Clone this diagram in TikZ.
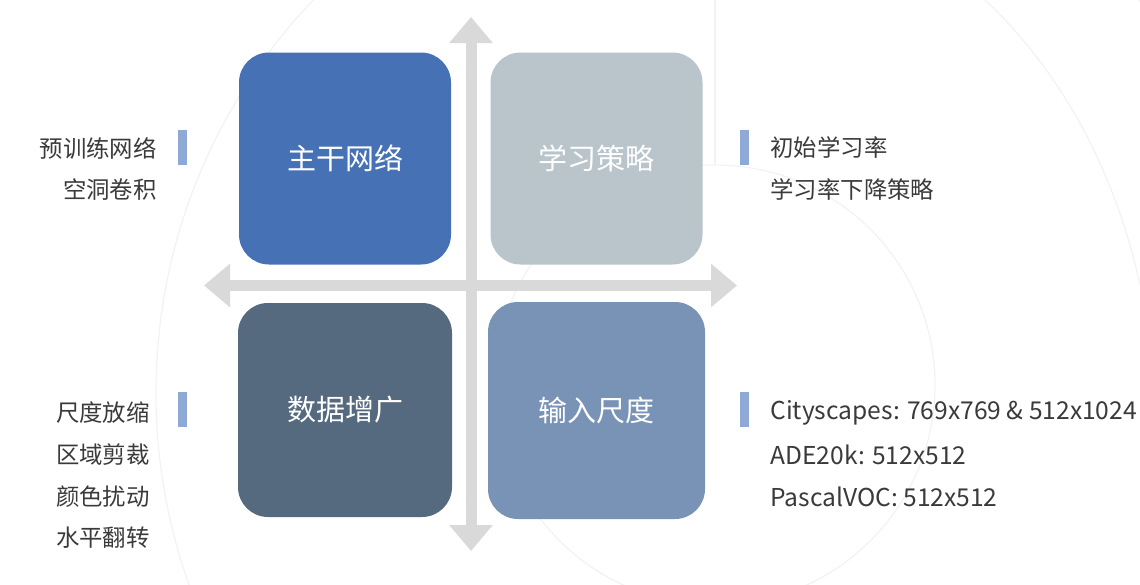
\documentclass[tikz,border=0pt]{standalone}
\usepackage{fontspec}
\setmainfont{Noto Sans CJK SC}
\usepackage{tikz}
\usetikzlibrary{arrows.meta}

\definecolor{backbone}{HTML}{4672B5}
\definecolor{lrplan}{HTML}{B9C4CB}
\definecolor{augment}{HTML}{55697F}
\definecolor{inscale}{HTML}{7893B5}
\definecolor{axisgray}{HTML}{D9D9D9}
\definecolor{barblue}{HTML}{8EA9D6}
\definecolor{txtgray}{HTML}{3A3A3A}

\begin{document}
\begin{tikzpicture}[x=0.5pt, y=-0.5pt]
        \tikzstyle{every node} = [font=\fontsize{11.7}{14}\selectfont, text=txtgray]
        \tikzstyle{quad} = [rounded corners=15pt, inner sep=0pt, minimum width=106pt, minimum height=106pt, text=white, font=\fontsize{14.5}{17}\selectfont]
        \tikzstyle{axis} = [draw=axisgray, line width=5.5pt, {Triangle[width=21pt, length=13pt]}-{Triangle[width=21pt, length=13pt]}]
        \tikzstyle{strip} = [fill=barblue, inner sep=0pt, minimum width=4.5pt, minimum height=17.5pt]
        \tikzstyle{leftlbl} = [inner sep=0pt, anchor=east]
        \tikzstyle{rightlbl} = [inner sep=0pt, anchor=west]
        \tikzstyle{latinlbl} = [rightlbl, font=\fontsize{12.3}{14}\selectfont]
        \tikzstyle{deco} = [draw=black!5, line width=0.6pt]

        \def\gap{41.7}
        \def\lx{157}
        \def\rx{770}

        \useasboundingbox (0,0) rectangle (1140,584);

        % faint rings of the slide background
        \begin{scope}
            \clip (0,0) rectangle (1140,584);
            \draw[deco] (715,385) circle[radius=220];
            \draw[deco] (726,393) circle[radius=570];
            \draw[deco] (715,0) -- (715,165);
            \draw[deco] (985,0) .. controls (1060,70) and (1115,170) .. (1140,285);
        \end{scope}

        % axes
        \coordinate (n) at (471,17);
        \coordinate (s) at (471,551);
        \coordinate (w) at (204,285.5);
        \coordinate (e) at (737,285.5);
        \draw[axis] (s) -- (n);
        \draw[axis] (w) -- (e);

        % four quadrants
        \node[quad, fill=backbone] (backbone) at (345,158.5) {主干网络};
        \node[quad, fill=lrplan] (lrplan) at (596.5,158.5) {学习策略};
        \node[quad, fill=augment, minimum width=107pt, minimum height=107pt] (augment) at (345,410) {数据增广};
        \node[quad, fill=inscale, minimum width=108.5pt, minimum height=108.5pt] (inscale) at (596.5,410.5) {输入尺度};

        % side notes
        \node[strip] (bar-tl) at (182.5,147) {};
        \node[strip] (bar-tr) at (744,147) {};
        \node[strip] (bar-bl) at (182.5,409.5) {};
        \node[strip] (bar-br) at (744,409.5) {};

        \foreach[count=\c] \t in {预训练网络, 空洞卷积}
            \node[leftlbl] (tl-\c) at (\lx, {148+\gap*(\c-1)}) {\t};
        \foreach[count=\c] \t in {初始学习率, 学习率下降策略}
            \node[rightlbl] (tr-\c) at (\rx, {148+\gap*(\c-1)}) {\t};
        \foreach[count=\c] \t in {尺度放缩, 区域剪裁, 颜色扰动, 水平翻转}
            \node[leftlbl] (bl-\c) at (150, {413+\gap*(\c-1)}) {\t};
        \foreach[count=\c] \t in {Cityscapes: 769x769 \& 512x1024, ADE20k: 512x512, PascalVOC: 512x512}
            \node[latinlbl] (br-\c) at (\rx, {413+\gap*(\c-1)}) {\t};
\end{tikzpicture}
\end{document}
